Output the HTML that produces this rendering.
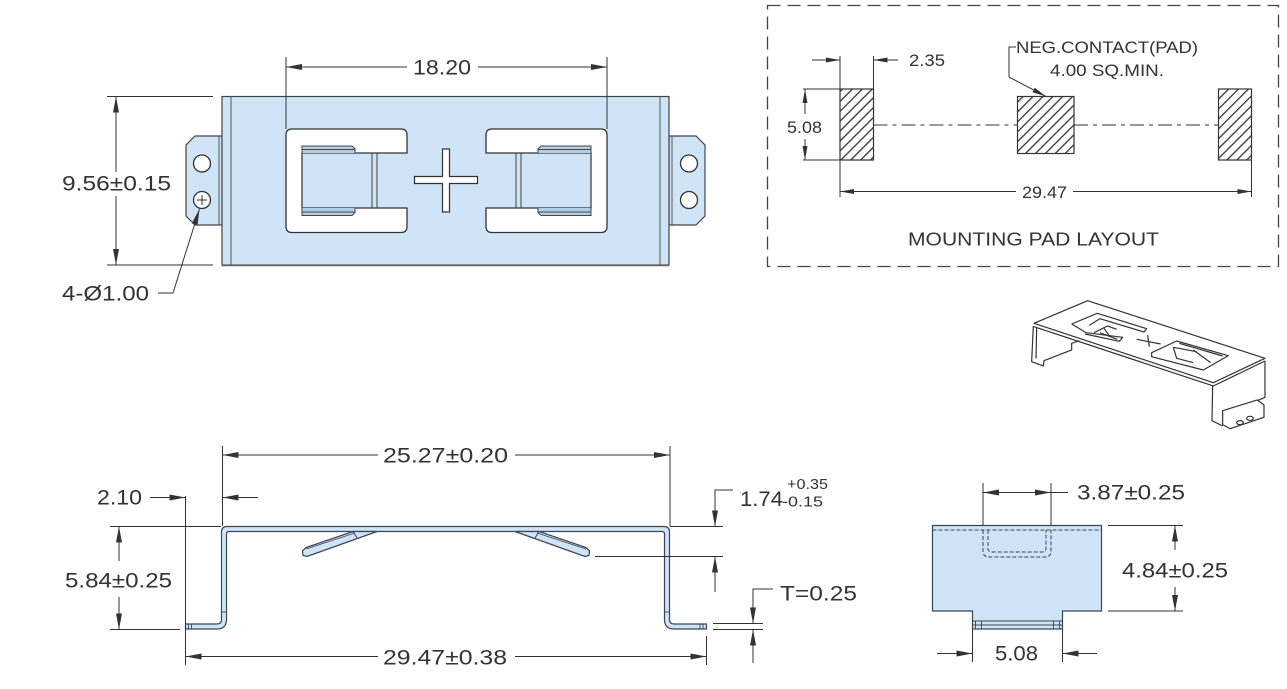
<!DOCTYPE html>
<html><head><meta charset="utf-8"><style>
html,body{margin:0;padding:0;background:#fff;}
svg{display:block;}
text{font-family:"Liberation Sans",Arial,sans-serif;fill:#333;}
</style></head><body>
<svg width="1287" height="689" viewBox="0 0 1287 689" xmlns="http://www.w3.org/2000/svg">
<defs>
<marker id="ar" markerWidth="16" markerHeight="6" refX="16" refY="3" orient="auto" markerUnits="userSpaceOnUse"><path d="M0,0 L16,3 L0,6 Z" fill="#333"/></marker>
<marker id="as" markerWidth="14" markerHeight="6" refX="14" refY="3" orient="auto" markerUnits="userSpaceOnUse"><path d="M0,0.5 L14,3 L0,5.5 Z" fill="#333"/></marker>
<pattern id="hatch" patternUnits="userSpaceOnUse" width="7" height="7" patternTransform="rotate(45)"><rect width="7" height="7" fill="#fff"/><line x1="0.7" y1="0" x2="0.7" y2="7" stroke="#333" stroke-width="1.3"/></pattern>
</defs>
<rect width="1287" height="689" fill="#fff"/>

<!-- ================= TOP VIEW ================= -->
<g stroke="#444" stroke-width="1.2" fill="#cfe5f7">
  <path d="M222,136 L195,136 L186,145 L186,216 L195,225 L222,225 Z"/>
  <path d="M669,136 L696,136 L705,145 L705,216 L696,225 L669,225 Z"/>
  <rect x="222" y="96.5" width="447" height="168.5"/>
</g>
<line x1="222" y1="265.5" x2="669" y2="265.5" stroke="#666" stroke-width="1.6"/>
<g stroke="#555" stroke-width="1">
  <line x1="231" y1="96.5" x2="231" y2="265"/>
  <line x1="660" y1="96.5" x2="660" y2="265"/>
  <line x1="219" y1="136" x2="219" y2="225"/>
  <line x1="672" y1="136" x2="672" y2="225"/>
</g>
<g stroke="#333" stroke-width="1.3" fill="#fff">
  <circle cx="202" cy="163.5" r="8.5"/>
  <circle cx="202" cy="200" r="8.5"/>
  <circle cx="689" cy="163.5" r="8.5"/>
  <circle cx="689" cy="200" r="8.5"/>
</g>
<g stroke="#333" stroke-width="1"><line x1="197" y1="200" x2="207" y2="200"/><line x1="202" y1="195" x2="202" y2="205"/></g>

<!-- cutouts -->
<g id="cut">
  <path d="M292,129 H401 Q407,129 407,135 V153 H302 V208 H407 V226.5 Q407,232.5 401,232.5 H292 Q286,232.5 286,226.5 V135 Q286,129 292,129 Z" fill="#fff" stroke="#333" stroke-width="1.3"/>
  <g stroke="#444" stroke-width="1">
    <path d="M302,153 V146 H352 L355,149 V153" fill="#b3cfe6"/>
    <path d="M302,208 V215.5 H352 L355,212.5 V208" fill="#b3cfe6"/>
    <line x1="302" y1="149.5" x2="355" y2="149.5"/>
    <line x1="302" y1="212" x2="355" y2="212"/>
    <line x1="302" y1="153" x2="302" y2="208"/>
    <line x1="372" y1="153" x2="372" y2="208"/>
    <line x1="377" y1="153" x2="377" y2="208"/>
  </g>
</g>
<use href="#cut" transform="translate(893,0) scale(-1,1)"/>
<path d="M442.5,149 H449.5 V176.5 H477.5 V183.5 H449.5 V212 H442.5 V183.5 H414.5 V176.5 H442.5 Z" fill="#fff" stroke="#333" stroke-width="1.2"/>

<!-- top view dims -->
<g stroke="#333" stroke-width="1" fill="none">
  <line x1="286" y1="57" x2="286" y2="129"/>
  <line x1="607" y1="57" x2="607" y2="129"/>
  <line x1="407" y1="67" x2="286" y2="67" marker-end="url(#ar)"/>
  <line x1="478" y1="67" x2="607" y2="67" marker-end="url(#ar)"/>
  <line x1="107" y1="96.5" x2="213" y2="96.5"/>
  <line x1="107" y1="265" x2="213" y2="265"/>
  <line x1="116" y1="172" x2="116" y2="96.5" marker-end="url(#ar)"/>
  <line x1="116" y1="196" x2="116" y2="265" marker-end="url(#ar)"/>
  <polyline points="158,293 173,293"/>
  <line x1="173" y1="293" x2="199.5" y2="209" marker-end="url(#ar)"/>
</g>
<text x="413" y="74.5" font-size="21" textLength="58" lengthAdjust="spacingAndGlyphs">18.20</text>
<text x="62" y="190.5" font-size="21" textLength="109" lengthAdjust="spacingAndGlyphs">9.56±0.15</text>
<text x="62" y="300.5" font-size="21" textLength="87" lengthAdjust="spacingAndGlyphs">4-Ø1.00</text>

<!-- ================= PAD LAYOUT ================= -->
<rect x="767.5" y="5.5" width="511" height="261" fill="none" stroke="#444" stroke-width="1.3" stroke-dasharray="13 7"/>
<g stroke="#333" stroke-width="1.2" fill="url(#hatch)">
  <rect x="840" y="89" width="33.5" height="71"/>
  <rect x="1017.5" y="96.5" width="56.5" height="57"/>
  <rect x="1218.5" y="89" width="33" height="71"/>
</g>
<g stroke="#333" stroke-width="1.1" fill="none" stroke-dasharray="14 5 4 5">
  <line x1="873.5" y1="125" x2="1017.5" y2="125"/>
  <line x1="1074" y1="125" x2="1218.5" y2="125"/>
</g>
<g stroke="#333" stroke-width="1" fill="none">
  <line x1="803" y1="89" x2="840" y2="89"/>
  <line x1="803" y1="160" x2="840" y2="160"/>
  <line x1="805" y1="114" x2="805" y2="89" marker-end="url(#as)"/>
  <line x1="805" y1="139" x2="805" y2="160" marker-end="url(#as)"/>
  <line x1="840" y1="56" x2="840" y2="89"/>
  <line x1="873.5" y1="56" x2="873.5" y2="89"/>
  <line x1="812" y1="60" x2="840" y2="60" marker-end="url(#as)"/>
  <line x1="898" y1="60" x2="873.5" y2="60" marker-end="url(#as)"/>
  <polyline points="1016,47 1009,47 1009,77"/>
  <line x1="1009" y1="77" x2="1046" y2="96.5" marker-end="url(#as)"/>
  <line x1="840" y1="160" x2="840" y2="197"/>
  <line x1="1251.5" y1="160" x2="1251.5" y2="197"/>
  <line x1="1016" y1="191.5" x2="840" y2="191.5" marker-end="url(#as)"/>
  <line x1="1073" y1="191.5" x2="1251.5" y2="191.5" marker-end="url(#as)"/>
</g>
<text x="909" y="66" font-size="16.5" textLength="36" lengthAdjust="spacingAndGlyphs">2.35</text>
<text x="787" y="133" font-size="16.5" textLength="35" lengthAdjust="spacingAndGlyphs">5.08</text>
<text x="1016" y="53" font-size="16.5" textLength="182" lengthAdjust="spacingAndGlyphs">NEG.CONTACT(PAD)</text>
<text x="1050" y="76" font-size="16.5" textLength="114" lengthAdjust="spacingAndGlyphs">4.00 SQ.MIN.</text>
<text x="1022" y="198" font-size="16.5" textLength="45" lengthAdjust="spacingAndGlyphs">29.47</text>
<text x="908" y="245.5" font-size="18" textLength="251" lengthAdjust="spacingAndGlyphs">MOUNTING PAD LAYOUT</text>

<!-- ================= 3D VIEW ================= -->
<g transform="translate(1000,290) scale(0.3333)" stroke="#333" stroke-width="3.6" fill="none" stroke-linejoin="round">
  <path d="M102,100 L263,32 L795,205 L640,278 Z" fill="#fff"/>
  <path d="M102,110 L640,288 L795,213"/>
  <path d="M100,108 L95,215 L130,228 L132,212 L215,180 L215,160 L238,152"/>
  <path d="M110,114 L108,205"/>
  <path d="M638,288 L636,392 L668,408"/>
  <path d="M795,213 L795,322 L772,332"/>
  <path d="M668,362 L772,330 L792,345 L792,382 L690,416 L668,404 Z" fill="#fff"/>
  <ellipse cx="720" cy="398" rx="10" ry="6"/>
  <ellipse cx="750" cy="385" rx="10" ry="6"/>
  <path d="M215,102 L292,70 L440,116 L432,126 L300,86 L268,106"/>
  <path d="M215,102 L258,128 L368,142 L358,154 L255,132"/>
  <path d="M282,128 L322,108 L350,118 M300,128 L352,148 M310,112 L330,140"/>
  <path d="M410,148 L482,162 M443,135 L448,170"/>
  <path d="M455,188 L530,153 L685,197 L610,240 L455,200 Z"/>
  <path d="M538,160 L668,198 M520,172 L530,205 L580,218 M520,172 L590,185 M580,180 L632,218"/>
</g>

<!-- ================= SIDE VIEW ================= -->
<path d="M185.5,624 H217 Q221.5,624 221.5,619.5 V532 Q221.5,526.5 227,526.5 H664 Q669.5,526.5 669.5,532 V619.5 Q669.5,624 674,624 H706.5 V629 H674 Q664.5,629 664.5,619.5 V534 Q664.5,531.5 662,531.5 H229 Q226.5,531.5 226.5,534 V619.5 Q226.5,629 217,629 H185.5 Z" fill="#cfe5f7" stroke="#3a4652" stroke-width="1.2"/>
<g id="spr">
  <path d="M353,531.5 L377,531.5 L307,556.5 L303,555.5 L302.5,551 L306,547.5 Z" fill="#cfe5f7" stroke="#3a4652" stroke-width="1.2"/>
  <line x1="353" y1="531.5" x2="357" y2="538" stroke="#3a4652" stroke-width="1"/>
  <line x1="306" y1="549" x2="355" y2="533" stroke="#3a4652" stroke-width="0.8"/>
</g>
<use href="#spr" transform="translate(892,0) scale(-1,1)"/>
<g stroke="#3a4652" stroke-width="0.9">
  <line x1="188.5" y1="624" x2="188.5" y2="629"/><line x1="191.5" y1="624" x2="191.5" y2="629"/>
  <line x1="700" y1="624" x2="700" y2="629"/><line x1="703" y1="624" x2="703" y2="629"/>
  <line x1="221.5" y1="612" x2="226.5" y2="612"/><line x1="664.5" y1="612" x2="669.5" y2="612"/>
</g>
<g stroke="#333" stroke-width="1" fill="none">
  <line x1="222.5" y1="446" x2="222.5" y2="526"/>
  <line x1="670" y1="446" x2="670" y2="526"/>
  <line x1="378" y1="455" x2="222.5" y2="455" marker-end="url(#ar)"/>
  <line x1="515" y1="455" x2="670" y2="455" marker-end="url(#ar)"/>
  <line x1="185.5" y1="496" x2="185.5" y2="665"/>
  <line x1="150" y1="497.5" x2="185.5" y2="497.5" marker-end="url(#ar)"/>
  <line x1="258" y1="497.5" x2="222.5" y2="497.5" marker-end="url(#ar)"/>
  <line x1="110" y1="526.5" x2="221" y2="526.5"/>
  <line x1="110" y1="629.5" x2="180" y2="629.5"/>
  <line x1="119" y1="561" x2="119" y2="526.5" marker-end="url(#ar)"/>
  <line x1="119" y1="597" x2="119" y2="629.5" marker-end="url(#ar)"/>
  <line x1="706.5" y1="636" x2="706.5" y2="665"/>
  <line x1="378" y1="656.5" x2="185.5" y2="656.5" marker-end="url(#ar)"/>
  <line x1="515" y1="656.5" x2="706.5" y2="656.5" marker-end="url(#ar)"/>
  <line x1="670" y1="526.5" x2="723" y2="526.5"/>
  <line x1="595" y1="556.5" x2="723" y2="556.5"/>
  <polyline points="733,490 715,490 715,500"/>
  <line x1="715" y1="495" x2="715" y2="526.5" marker-end="url(#ar)"/>
  <line x1="715" y1="592" x2="715" y2="556.5" marker-end="url(#ar)"/>
  <line x1="713" y1="623.5" x2="763" y2="623.5"/>
  <line x1="713" y1="629.5" x2="763" y2="629.5"/>
  <polyline points="773,589 753,589 753,595"/>
  <line x1="753" y1="590" x2="753" y2="623.5" marker-end="url(#ar)"/>
  <line x1="753" y1="663" x2="753" y2="629.5" marker-end="url(#ar)"/>
</g>
<text x="383" y="462.5" font-size="21" textLength="125" lengthAdjust="spacingAndGlyphs">25.27±0.20</text>
<text x="97" y="504.5" font-size="21" textLength="45" lengthAdjust="spacingAndGlyphs">2.10</text>
<text x="65" y="587.5" font-size="21" textLength="107" lengthAdjust="spacingAndGlyphs">5.84±0.25</text>
<text x="383" y="664.5" font-size="21" textLength="124" lengthAdjust="spacingAndGlyphs">29.47±0.38</text>
<text x="740" y="506" font-size="21" textLength="43" lengthAdjust="spacingAndGlyphs">1.74</text>
<text x="787" y="489" font-size="14.5" textLength="41" lengthAdjust="spacingAndGlyphs">+0.35</text>
<text x="782" y="506.5" font-size="14.5" textLength="41" lengthAdjust="spacingAndGlyphs">-0.15</text>
<text x="780" y="600.5" font-size="21" textLength="77" lengthAdjust="spacingAndGlyphs">T=0.25</text>

<!-- ================= END VIEW ================= -->
<path d="M932.5,525.5 H1101.5 V611 H1062.5 V629 H972.5 V611 H932.5 Z" fill="#cfe5f7" stroke="#3a4652" stroke-width="1.2"/>
<g stroke="#3a4652" stroke-width="0.9">
  <line x1="972.5" y1="621" x2="1062.5" y2="621"/>
  <line x1="972.5" y1="625" x2="1062.5" y2="625"/>
  <line x1="975.5" y1="621" x2="975.5" y2="629"/><line x1="981.5" y1="621" x2="981.5" y2="629"/>
  <line x1="1053.5" y1="621" x2="1053.5" y2="629"/><line x1="1059.5" y1="621" x2="1059.5" y2="629"/>
</g>
<g stroke="#3a4652" stroke-width="1" fill="none" stroke-dasharray="4 2">
  <line x1="932.5" y1="530" x2="1101.5" y2="530"/>
  <path d="M983,530 V551 Q983,557 989,557 H1045 Q1051,557 1051,551 V530"/>
  <path d="M988,530 V548 Q988,552 992,552 H1042 Q1046,552 1046,548 V530"/>
</g>
<g stroke="#333" stroke-width="1" fill="none">
  <line x1="983" y1="483" x2="983" y2="525"/>
  <line x1="1051" y1="483" x2="1051" y2="525"/>
  <line x1="1017" y1="492.5" x2="983" y2="492.5" marker-end="url(#ar)"/>
  <line x1="1015" y1="492.5" x2="1051" y2="492.5" marker-end="url(#ar)"/>
  <line x1="1051" y1="492.5" x2="1068" y2="492.5"/>
  <line x1="1108" y1="525.5" x2="1183" y2="525.5"/>
  <line x1="1108" y1="611" x2="1183" y2="611"/>
  <line x1="1175" y1="550" x2="1175" y2="525.5" marker-end="url(#ar)"/>
  <line x1="1175" y1="587" x2="1175" y2="611" marker-end="url(#ar)"/>
  <line x1="972.5" y1="629" x2="972.5" y2="662"/>
  <line x1="1062.5" y1="629" x2="1062.5" y2="662"/>
  <line x1="937" y1="653.5" x2="972.5" y2="653.5" marker-end="url(#ar)"/>
  <line x1="1097" y1="653.5" x2="1062.5" y2="653.5" marker-end="url(#ar)"/>
</g>
<text x="1077" y="499.5" font-size="21" textLength="108" lengthAdjust="spacingAndGlyphs">3.87±0.25</text>
<text x="1122" y="577.5" font-size="21" textLength="106" lengthAdjust="spacingAndGlyphs">4.84±0.25</text>
<text x="995" y="660.5" font-size="21" textLength="43" lengthAdjust="spacingAndGlyphs">5.08</text>
</svg>
</body></html>
